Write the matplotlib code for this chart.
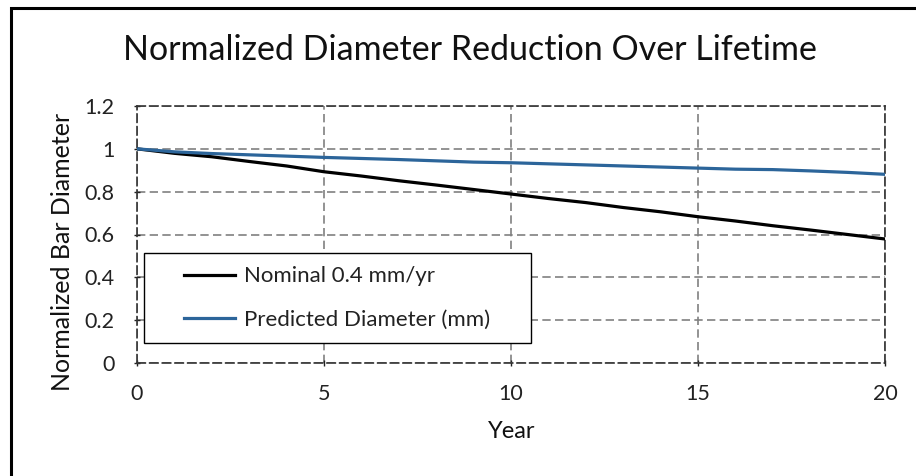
import numpy as np
import matplotlib
matplotlib.use('Agg')
import matplotlib.pyplot as plt
from matplotlib.patches import Rectangle

plt.rcParams['font.family'] = ['Lato', 'DejaVu Sans']

# data
years = list(range(0, 21))
nominal = [1.0, 0.979, 0.963, 0.941, 0.920, 0.893, 0.873, 0.851, 0.831, 0.810,
           0.789, 0.768, 0.749, 0.726, 0.706, 0.683, 0.663, 0.641, 0.621, 0.600, 0.579]
predicted = [1.0, 0.986, 0.978, 0.972, 0.966, 0.960, 0.955, 0.950, 0.944, 0.938,
             0.935, 0.930, 0.925, 0.920, 0.915, 0.910, 0.905, 0.903, 0.897, 0.890, 0.881]
series_names = ['Nominal 0.4 mm/yr', 'Predicted Diameter (mm)']
x_ticks = [0, 5, 10, 15, 20]
y_ticks = [0, 0.2, 0.4, 0.6, 0.8, 1, 1.2]
y_tick_labels = ['0', '0.2', '0.4', '0.6', '0.8', '1', '1.2']

W, H = 916, 476
fig = plt.figure(figsize=(W / 100, H / 100), dpi=100)
ax = fig.add_axes([137 / W, 1 - 363 / H, (885 - 137) / W, (363 - 106) / H])

ax.plot(years, nominal, color='black', lw=2.3, label=series_names[0], zorder=3)
ax.plot(years, predicted, color='#2C659A', lw=2.3, label=series_names[1], zorder=3)

ax.set_xlim(0, 20)
ax.set_ylim(0, 1.2)
ax.set_xticks(x_ticks)
ax.set_yticks(y_ticks)
ax.set_yticklabels(y_tick_labels)
ax.tick_params(labelsize=15.5, colors='#222222', length=4, direction='inout', width=1)
ax.tick_params(axis='x', pad=13)
ax.tick_params(axis='y', pad=14)

ax.set_axisbelow(True)
ax.grid(True, color='#808080', lw=1.2, linestyle=(0, (5, 2.6)))
for s in ax.spines.values():
    s.set_color('#333333')
    s.set_linewidth(1.2)
    s.set_linestyle((0, (5, 2.6)))

# legend box
lx0, lx1 = (144 - 137) / 748, (531 - 137) / 748
ly0, ly1 = (363 - 343) / 257, (363 - 253) / 257
ax.add_patch(Rectangle((lx0, ly0), lx1 - lx0, ly1 - ly0, transform=ax.transAxes,
                       facecolor='white', edgecolor='black', lw=1, zorder=4.5))
leg = ax.legend(loc='center left', bbox_to_anchor=(lx0 + 40 / 748, (ly0 + ly1) / 2),
                frameon=False, fontsize=16, handlelength=2.3, handletextpad=0.4,
                labelspacing=1.05, borderpad=0, borderaxespad=0)
leg.set_zorder(5)
for t in leg.get_texts():
    t.set_color('#222222')

fig.text(470 / W, 1 - 50 / H, 'Normalized Diameter Reduction Over Lifetime',
         ha='center', va='center', fontsize=24.5, color='#111111')
fig.text(63 / W, 1 - 252 / H, 'Normalized Bar Diameter', rotation=90,
         ha='center', va='center', fontsize=18, color='#111111')
fig.text(512 / W, 1 - 432 / H, 'Year', ha='center', va='center',
         fontsize=17, color='#111111')

# outer chart border
fig.patches.append(Rectangle((10.5 / W, -0.1), 1.2, 0.1 + (1 - 7.5 / H),
                             transform=fig.transFigure, fill=False,
                             edgecolor='black', lw=2.2))

fig.savefig('out.png', dpi=100)
